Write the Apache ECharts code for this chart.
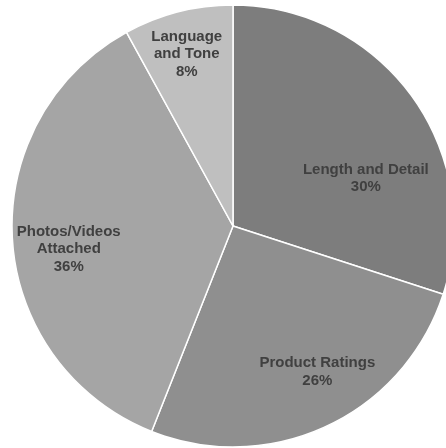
<!DOCTYPE html>
<html>
<head>
<meta charset="utf-8">
<script src="https://cdn.jsdelivr.net/npm/echarts@6/dist/echarts.min.js"></script>
<style>html,body{margin:0;padding:0;background:#fff}#c{width:446px;height:448px}</style>
</head>
<body>
<div id="c"></div>
<script>
var categories = ['Length and Detail', 'Product Ratings', 'Photos/Videos\nAttached', 'Language\nand Tone'];
var values = [30, 26, 36, 8];
var colors = ['#7d7d7d', '#8f8f8f', '#a5a5a5', '#bfbfbf'];
var labelShift = [[41, 19], [36, 43], [-51, 16], [-18, -62]];

var chart = echarts.init(document.getElementById('c'));
chart.setOption({
  animation: false,
  series: [{
    type: 'pie',
    center: [233, 226],
    radius: 221,
    startAngle: 90,
    clockwise: true,
    data: categories.map(function (c, i) {
      return { name: c, value: values[i], itemStyle: { color: colors[i] } };
    }),
    itemStyle: { borderColor: '#ffffff', borderWidth: 1.5 },
    label: {
      position: 'inside',
      formatter: function (p) { return p.name + '\n' + p.value + '%'; },
      fontFamily: 'Liberation Sans, Arial, sans-serif',
      fontWeight: 'bold',
      fontSize: 15,
      lineHeight: 17.5,
      color: '#404040',
      align: 'center'
    },
    labelLine: { show: false },
    labelLayout: function (p) {
      return { dx: labelShift[p.dataIndex][0], dy: labelShift[p.dataIndex][1] };
    },
    emphasis: { disabled: true }
  }]
});
</script>
</body>
</html>
